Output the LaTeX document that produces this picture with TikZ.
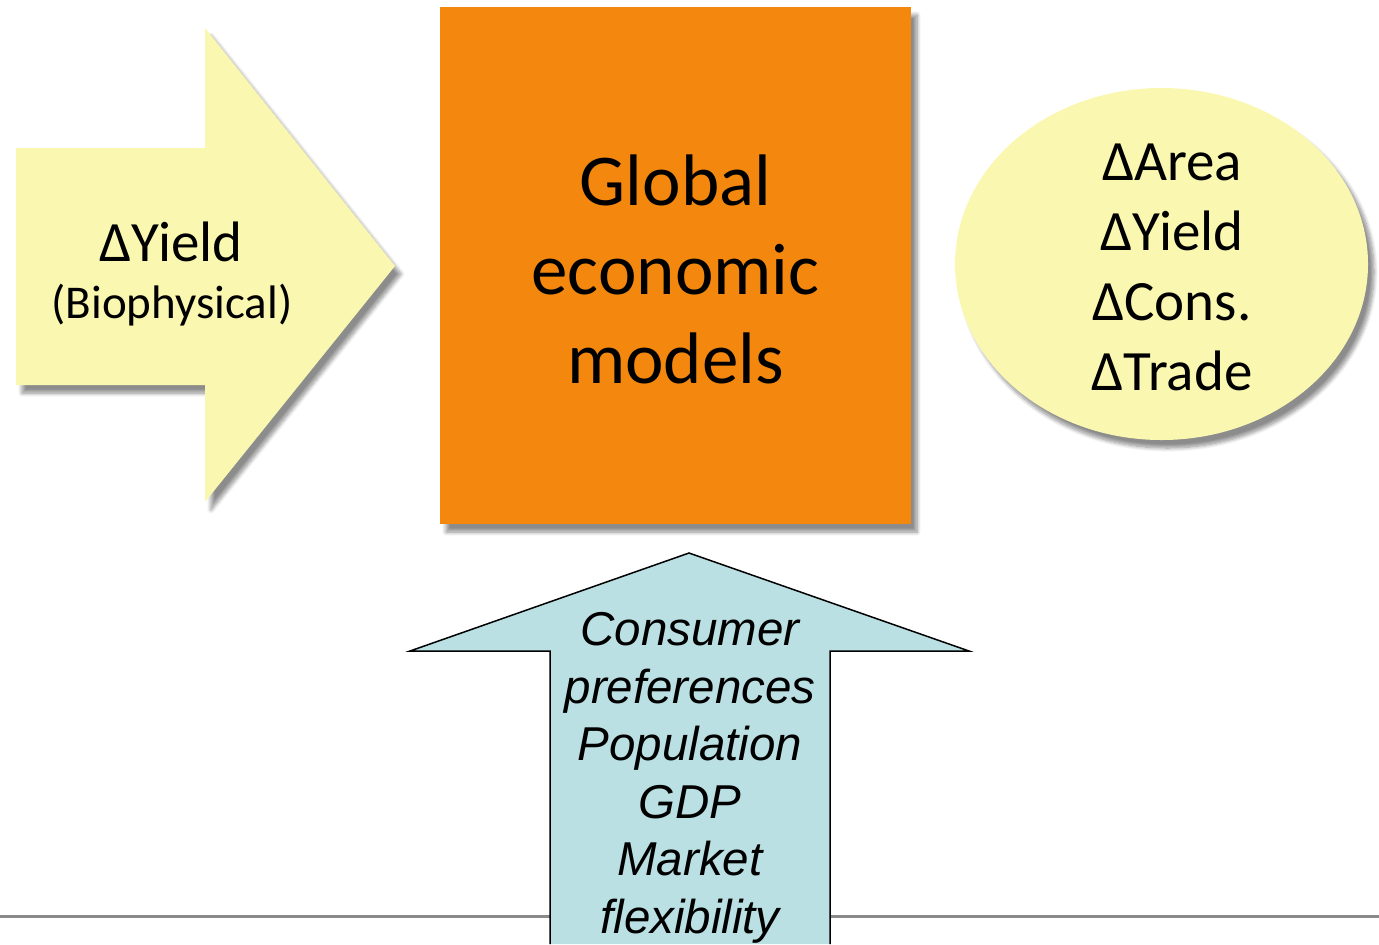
\documentclass[tikz,border=0pt]{standalone}
\usepackage{fontspec}
\setmainfont{Carlito}
\newfontfamily\arialfont{Liberation Sans}
\usetikzlibrary{shapes.geometric,shadows.blur}

\definecolor{paleyellow}{RGB}{250,248,176}
\definecolor{ecoorange}{RGB}{244,136,14}
\definecolor{driverblue}{RGB}{186,224,227}
\definecolor{rulegray}{RGB}{138,138,138}

\begin{document}
\begin{tikzpicture}[
    x=0.5pt, y=-0.5pt,
    softshadow/.style={blur shadow={shadow xshift=3pt, shadow yshift=-4pt,
        shadow blur steps=8, shadow opacity=45}},
    label/.style={inner sep=0pt, align=center},
    ecobox/.style={rectangle, fill=ecoorange, softshadow,
        minimum width=235.5pt, minimum height=258.5pt, inner sep=0pt},
    outcome/.style={ellipse, fill=paleyellow, softshadow,
        minimum width=206.5pt, minimum height=176pt, inner sep=0pt},
    ]

    \useasboundingbox (0,0) rectangle (1379,944);

    % bottom rule, the driver arrow goes over it
    \draw[rulegray, line width=1.5pt] (0,916) -- (1379,916);

    % biophysical input arrow
    \fill[paleyellow, softshadow] (16,148) -- (205,148) -- (205,28) -- (395,266)
        -- (205,502) -- (205,385) -- (16,385) -- cycle;
    \node[label, font=\fontsize{28.5}{33}\selectfont] (dyield) at (171,242) {ΔYield};
    \node[label, font=\fontsize{23.5}{27}\selectfont] (bioph) at (172,305) {(Biophysical)};

    % the models
    \node[ecobox] (models) at (675.5,265.5) {};
    \node[label, font=\fontsize{36.5}{44.5}\selectfont] (modtext) at (675.5,269)
        {Global\\economic\\models};

    % outputs
    \node[outcome] (out) at (1161.5,264) {};
    \node[label, font=\fontsize{28.5}{35}\selectfont] (outtext) at (1172,267)
        {ΔArea\\ΔYield\\ΔCons.\\ΔTrade};

    % socio-economic drivers
    \filldraw[fill=driverblue, draw=black, line width=0.75pt]
        (550,944) -- (550,651) -- (410,651) -- (689,553)
        -- (969,651) -- (830,651) -- (830,944);
    \node[label, anchor=north, font=\arialfont\itshape\fontsize{23.75}{28.8}\selectfont]
        (drivers) at (690,612)
        {Consumer\\preferences\\Population\\GDP\\Market\\flexibility};
\end{tikzpicture}
\end{document}
